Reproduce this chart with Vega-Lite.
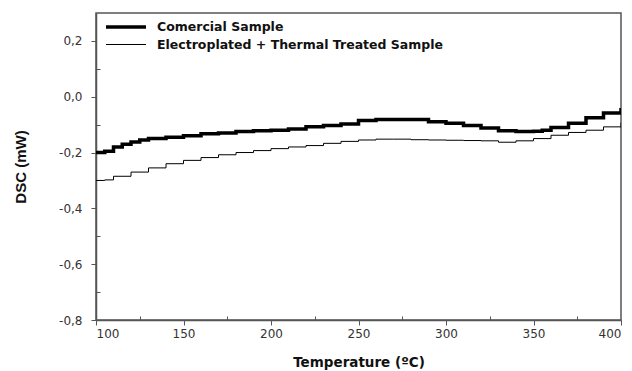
{
  "$schema": "https://vega.github.io/schema/vega-lite/v6.json",
  "autosize": "none",
  "width": 525,
  "height": 307,
  "padding": {"left": 96, "top": 13, "right": 11, "bottom": 51},
  "background": "white",
  "config": {
    "view": {"stroke": "#555", "strokeWidth": 1.5},
    "font": "DejaVu Sans"
  },
  "datasets": {
    "dsc": [
      {"T": 100, "v": -0.200, "s": "Comercial Sample"},
      {"T": 105, "v": -0.195, "s": "Comercial Sample"},
      {"T": 110, "v": -0.180, "s": "Comercial Sample"},
      {"T": 115, "v": -0.170, "s": "Comercial Sample"},
      {"T": 120, "v": -0.162, "s": "Comercial Sample"},
      {"T": 125, "v": -0.155, "s": "Comercial Sample"},
      {"T": 130, "v": -0.150, "s": "Comercial Sample"},
      {"T": 140, "v": -0.145, "s": "Comercial Sample"},
      {"T": 150, "v": -0.140, "s": "Comercial Sample"},
      {"T": 160, "v": -0.133, "s": "Comercial Sample"},
      {"T": 170, "v": -0.130, "s": "Comercial Sample"},
      {"T": 180, "v": -0.125, "s": "Comercial Sample"},
      {"T": 190, "v": -0.122, "s": "Comercial Sample"},
      {"T": 200, "v": -0.120, "s": "Comercial Sample"},
      {"T": 210, "v": -0.116, "s": "Comercial Sample"},
      {"T": 220, "v": -0.108, "s": "Comercial Sample"},
      {"T": 230, "v": -0.103, "s": "Comercial Sample"},
      {"T": 240, "v": -0.098, "s": "Comercial Sample"},
      {"T": 250, "v": -0.085, "s": "Comercial Sample"},
      {"T": 260, "v": -0.082, "s": "Comercial Sample"},
      {"T": 270, "v": -0.082, "s": "Comercial Sample"},
      {"T": 280, "v": -0.082, "s": "Comercial Sample"},
      {"T": 290, "v": -0.090, "s": "Comercial Sample"},
      {"T": 300, "v": -0.095, "s": "Comercial Sample"},
      {"T": 310, "v": -0.103, "s": "Comercial Sample"},
      {"T": 320, "v": -0.112, "s": "Comercial Sample"},
      {"T": 330, "v": -0.122, "s": "Comercial Sample"},
      {"T": 340, "v": -0.125, "s": "Comercial Sample"},
      {"T": 350, "v": -0.124, "s": "Comercial Sample"},
      {"T": 355, "v": -0.120, "s": "Comercial Sample"},
      {"T": 360, "v": -0.110, "s": "Comercial Sample"},
      {"T": 370, "v": -0.095, "s": "Comercial Sample"},
      {"T": 380, "v": -0.075, "s": "Comercial Sample"},
      {"T": 390, "v": -0.058, "s": "Comercial Sample"},
      {"T": 400, "v": -0.040, "s": "Comercial Sample"},
      {"T": 100, "v": -0.300, "s": "Electroplated + Thermal Treated Sample"},
      {"T": 105, "v": -0.298, "s": "Electroplated + Thermal Treated Sample"},
      {"T": 110, "v": -0.285, "s": "Electroplated + Thermal Treated Sample"},
      {"T": 120, "v": -0.270, "s": "Electroplated + Thermal Treated Sample"},
      {"T": 130, "v": -0.255, "s": "Electroplated + Thermal Treated Sample"},
      {"T": 140, "v": -0.240, "s": "Electroplated + Thermal Treated Sample"},
      {"T": 150, "v": -0.228, "s": "Electroplated + Thermal Treated Sample"},
      {"T": 160, "v": -0.218, "s": "Electroplated + Thermal Treated Sample"},
      {"T": 170, "v": -0.208, "s": "Electroplated + Thermal Treated Sample"},
      {"T": 180, "v": -0.200, "s": "Electroplated + Thermal Treated Sample"},
      {"T": 190, "v": -0.193, "s": "Electroplated + Thermal Treated Sample"},
      {"T": 200, "v": -0.186, "s": "Electroplated + Thermal Treated Sample"},
      {"T": 210, "v": -0.180, "s": "Electroplated + Thermal Treated Sample"},
      {"T": 220, "v": -0.175, "s": "Electroplated + Thermal Treated Sample"},
      {"T": 230, "v": -0.167, "s": "Electroplated + Thermal Treated Sample"},
      {"T": 240, "v": -0.160, "s": "Electroplated + Thermal Treated Sample"},
      {"T": 250, "v": -0.155, "s": "Electroplated + Thermal Treated Sample"},
      {"T": 260, "v": -0.152, "s": "Electroplated + Thermal Treated Sample"},
      {"T": 270, "v": -0.152, "s": "Electroplated + Thermal Treated Sample"},
      {"T": 280, "v": -0.154, "s": "Electroplated + Thermal Treated Sample"},
      {"T": 290, "v": -0.155, "s": "Electroplated + Thermal Treated Sample"},
      {"T": 300, "v": -0.156, "s": "Electroplated + Thermal Treated Sample"},
      {"T": 310, "v": -0.157, "s": "Electroplated + Thermal Treated Sample"},
      {"T": 320, "v": -0.158, "s": "Electroplated + Thermal Treated Sample"},
      {"T": 330, "v": -0.163, "s": "Electroplated + Thermal Treated Sample"},
      {"T": 340, "v": -0.158, "s": "Electroplated + Thermal Treated Sample"},
      {"T": 350, "v": -0.150, "s": "Electroplated + Thermal Treated Sample"},
      {"T": 360, "v": -0.138, "s": "Electroplated + Thermal Treated Sample"},
      {"T": 370, "v": -0.128, "s": "Electroplated + Thermal Treated Sample"},
      {"T": 380, "v": -0.120, "s": "Electroplated + Thermal Treated Sample"},
      {"T": 390, "v": -0.108, "s": "Electroplated + Thermal Treated Sample"},
      {"T": 400, "v": -0.093, "s": "Electroplated + Thermal Treated Sample"}
    ]
  },
  "data": {"name": "dsc"},
  "resolve": {"axis": {"x": "independent", "y": "independent"}},
  "layer": [
    {
      "mark": {"type": "line", "interpolate": "step-after", "clip": true},
      "encoding": {
        "x": {
          "field": "T", "type": "quantitative",
          "scale": {"domain": [100, 400], "nice": false, "zero": false},
          "axis": {
            "orient": "bottom",
            "values": [100, 150, 200, 250, 300, 350, 400],
            "title": "Temperature (ºC)",
            "titleFont": "DejaVu Sans", "titleFontSize": 13.5, "titleFontWeight": "bold", "titleColor": "#111",
            "titlePadding": 16,
            "labelFont": "DejaVu Sans", "labelFontSize": 12, "labelColor": "#333", "labelPadding": 3,
            "tickSize": 5, "tickColor": "#555", "domainColor": "#555", "domainWidth": 1.5,
            "grid": false
          }
        },
        "y": {
          "field": "v", "type": "quantitative",
          "scale": {"domain": [-0.8, 0.3], "nice": false, "zero": false},
          "axis": {
            "orient": "left",
            "values": [-0.8, -0.6, -0.4, -0.2, 0, 0.2],
            "labelExpr": "replace(replace(format(datum.value, '.1f'), '.', ','), '\u2212', '-')",
            "title": "DSC (mW)",
            "titleFont": "Liberation Sans", "titleFontSize": 15, "titleFontWeight": "bold", "titleColor": "#111",
            "titlePadding": 30,
            "labelFont": "DejaVu Sans", "labelFontSize": 12, "labelColor": "#333", "labelPadding": 9,
            "tickSize": 5, "tickColor": "#555", "domainColor": "#555", "domainWidth": 1.5,
            "grid": false
          }
        },
        "color": {
          "field": "s", "type": "nominal",
          "scale": {"domain": ["Comercial Sample", "Electroplated + Thermal Treated Sample"], "range": ["#000", "#000"]},
          "legend": {
            "title": null,
            "orient": "none",
            "legendX": 18,
            "legendY": 2,
            "symbolType": "M-2,0H2",
            "symbolSize": 400,
            "labelFont": "DejaVu Sans", "labelFontSize": 12.5, "labelFontWeight": "bold", "labelColor": "#111",
            "labelOffset": 19,
            "labelLimit": 400,
            "rowPadding": -2
          }
        },
        "strokeWidth": {
          "field": "s", "type": "nominal",
          "scale": {"domain": ["Comercial Sample", "Electroplated + Thermal Treated Sample"], "range": [3.5, 1]},
          "legend": null
        }
      }
    },
    {
      "mark": {"type": "line", "opacity": 0},
      "encoding": {
        "x": {
          "field": "T", "type": "quantitative",
          "axis": {
            "orient": "bottom", "values": [125, 175, 225, 275, 325, 375],
            "labels": false, "title": null, "domain": false, "grid": false,
            "tickSize": -4, "tickColor": "#555"
          }
        },
        "y": {
          "field": "v", "type": "quantitative",
          "axis": {
            "orient": "left", "values": [-0.7, -0.5, -0.3, -0.1, 0.1],
            "labels": false, "title": null, "domain": false, "grid": false,
            "tickSize": -4, "tickColor": "#555"
          }
        }
      }
    }
  ]
}
